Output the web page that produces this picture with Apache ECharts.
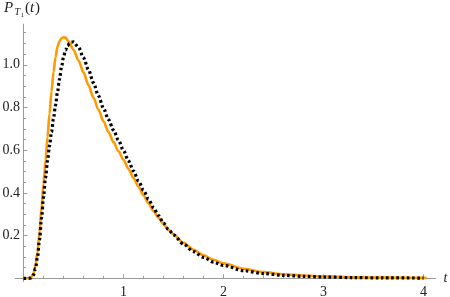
<!DOCTYPE html>
<html>
<head>
<meta charset="utf-8">
<script src="https://cdn.jsdelivr.net/npm/echarts@6/dist/echarts.min.js"></script>
<style>
html,body{margin:0;padding:0;background:#fff;}
#chart{width:450px;height:297px;}
</style>
</head>
<body>
<div id="chart"></div>
<script>
// ---- data ----
const tOrange = [0, 0.04, 0.06, 0.08, 0.10, 0.12, 0.14, 0.16, 0.18, 0.20, 0.22, 0.24, 0.26, 0.28, 0.30, 0.32, 0.34, 0.36, 0.38, 0.40, 0.42, 0.45, 0.50, 0.55, 0.60, 0.65, 0.70, 0.75, 0.80, 0.85, 0.90, 0.95, 1.00, 1.05, 1.10, 1.15, 1.20, 1.25, 1.30, 1.35, 1.40, 1.45, 1.50, 1.60, 1.70, 1.80, 1.90, 2.00, 2.20, 2.40, 2.60, 2.80, 3.00, 3.30, 3.60, 4.03];
const pOrange = [0, 0, 0.001, 0.007, 0.022, 0.058, 0.12, 0.215, 0.33, 0.44, 0.55, 0.66, 0.77, 0.875, 0.965, 1.035, 1.085, 1.11, 1.124, 1.129, 1.127, 1.11, 1.07, 1.02, 0.965, 0.905, 0.846, 0.789, 0.735, 0.685, 0.638, 0.595, 0.555, 0.512, 0.47, 0.429, 0.389, 0.351, 0.315, 0.283, 0.254, 0.228, 0.205, 0.166, 0.134, 0.108, 0.087, 0.07, 0.045, 0.029, 0.019, 0.013, 0.009, 0.005, 0.003, 0.002];

const tBlack = [0, 0.05, 0.07, 0.08, 0.10, 0.12, 0.14, 0.16, 0.18, 0.20, 0.22, 0.24, 0.26, 0.28, 0.30, 0.32, 0.34, 0.36, 0.38, 0.40, 0.42, 0.44, 0.46, 0.48, 0.50, 0.55, 0.60, 0.65, 0.70, 0.75, 0.80, 0.85, 0.90, 0.95, 1.00, 1.05, 1.10, 1.15, 1.20, 1.25, 1.30, 1.35, 1.40, 1.45, 1.50, 1.60, 1.70, 1.80, 1.90, 2.00, 2.20, 2.40, 2.60, 2.80, 3.00, 3.30, 3.60, 4.00];
const pBlack = [0, 0, 0.001, 0.004, 0.016, 0.046, 0.1, 0.18, 0.28, 0.38, 0.47, 0.55, 0.62, 0.685, 0.748, 0.81, 0.872, 0.932, 0.99, 1.035, 1.068, 1.089, 1.1, 1.106, 1.107, 1.082, 1.033, 0.976, 0.915, 0.854, 0.796, 0.743, 0.694, 0.646, 0.598, 0.55, 0.502, 0.456, 0.412, 0.37, 0.331, 0.294, 0.258, 0.229, 0.203, 0.16, 0.125, 0.098, 0.076, 0.06, 0.036, 0.022, 0.014, 0.009, 0.006, 0.003, 0.002, 0.001];

const xMajorTicks = [1, 2, 3, 4];
const xMinorTicks = [0.2, 0.4, 0.6, 0.8, 1.2, 1.4, 1.6, 1.8, 2.2, 2.4, 2.6, 2.8, 3.2, 3.4, 3.6, 3.8, 4.0];
const yMajorTicks = [0.2, 0.4, 0.6, 0.8, 1.0];
const yMinorTicks = [0.05, 0.1, 0.15, 0.25, 0.3, 0.35, 0.45, 0.5, 0.55, 0.65, 0.7, 0.75, 0.85, 0.9, 0.95, 1.05, 1.1, 1.15];

// ---- chart ----
const zip = (xs, ys) => xs.map((x, i) => [x, ys[i]]);
const X_MIN = -0.085, X_MAX = 4.12, Y_MIN = -0.015, Y_MAX = 1.19;
const axisColor = '#9a9a9a';
const serif = '"Liberation Serif", "DejaVu Serif", serif';
const gridRect = { left: 15, right: 14.5, top: 24.2, bottom: 15.5, containLabel: false, outerBoundsMode: 'none' };

const chart = echarts.init(document.getElementById('chart'), null, { renderer: 'canvas' });
chart.setOption({
  animation: false,
  backgroundColor: '#fff',
  grid: [Object.assign({}, gridRect), Object.assign({}, gridRect)],
  xAxis: [
    {
      type: 'value', gridIndex: 0, min: X_MIN, max: X_MAX,
      axisLine: { show: true, onZero: true, lineStyle: { color: axisColor, width: 1 } },
      axisTick: { show: true, inside: true, length: 4, customValues: xMajorTicks, lineStyle: { color: axisColor } },
      axisLabel: { show: true, customValues: xMajorTicks, formatter: v => String(v), margin: 4,
        color: '#222', fontFamily: serif, fontSize: 14 },
      splitLine: { show: false },
      name: 't', nameLocation: 'end', nameGap: 8,
      nameTextStyle: { fontFamily: serif, fontStyle: 'italic', fontSize: 14, color: '#222', verticalAlign: 'middle' }
    },
    {
      type: 'value', gridIndex: 1, min: X_MIN, max: X_MAX,
      axisLine: { show: false, onZero: true },
      axisTick: { show: true, inside: true, length: 2.5, customValues: xMinorTicks, lineStyle: { color: axisColor } },
      axisLabel: { show: false },
      splitLine: { show: false }
    }
  ],
  yAxis: [
    {
      type: 'value', gridIndex: 0, min: Y_MIN, max: Y_MAX,
      axisLine: { show: true, onZero: true, lineStyle: { color: axisColor, width: 1 } },
      axisTick: { show: true, inside: true, length: 4, customValues: yMajorTicks, lineStyle: { color: axisColor } },
      axisLabel: { show: true, customValues: yMajorTicks, formatter: v => v.toFixed(1), margin: -5,
        color: '#222', fontFamily: serif, fontSize: 14 },
      splitLine: { show: false }
    },
    {
      type: 'value', gridIndex: 1, min: Y_MIN, max: Y_MAX,
      axisLine: { show: false, onZero: true },
      axisTick: { show: true, inside: true, length: 2.5, customValues: yMinorTicks, lineStyle: { color: axisColor } },
      axisLabel: { show: false },
      splitLine: { show: false }
    }
  ],
  series: [
    {
      name: 'orange', type: 'line', xAxisIndex: 0, yAxisIndex: 0,
      data: zip(tOrange, pOrange), showSymbol: false, smooth: 0.3, smoothMonotone: 'x',
      lineStyle: { color: '#FF9A00', width: 2.6 }, z: 2
    },
    {
      name: 'black', type: 'line', xAxisIndex: 0, yAxisIndex: 0,
      data: zip(tBlack, pBlack), showSymbol: false, smooth: 0.3, smoothMonotone: 'x',
      lineStyle: { color: '#000', width: 3.2, type: [2.6, 2.6], cap: 'butt' }, z: 3
    }
  ],
  graphic: [
    { type: 'text', left: 4, top: 1, style: { text: 'P', font: 'italic 15px ' + serif, fill: '#222' } },
    { type: 'text', left: 14.5, top: 7, style: { text: 'T', font: 'italic 10px ' + serif, fill: '#222' } },
    { type: 'text', left: 20.5, top: 11.5, style: { text: '1', font: '7px ' + serif, fill: '#222' } },
    { type: 'text', left: 25, top: 1, style: { text: '(', font: '15px ' + serif, fill: '#222' } },
    { type: 'text', left: 30, top: 1, style: { text: 't', font: 'italic 15px ' + serif, fill: '#222' } },
    { type: 'text', left: 35, top: 1, style: { text: ')', font: '15px ' + serif, fill: '#222' } }
  ]
});
</script>
</body>
</html>
